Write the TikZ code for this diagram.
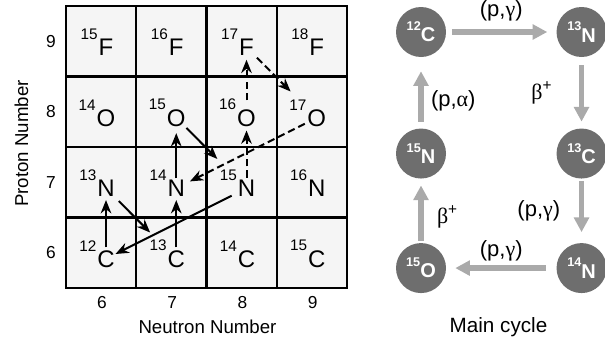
\documentclass[tikz,border=0pt]{standalone}
\usepackage{fontspec}
\setmainfont{Liberation Sans}
\newfontfamily\symfont{Liberation Serif}
\usetikzlibrary{arrows.meta,positioning}
\definecolor{cellfill}{RGB}{245,245,245}
\definecolor{nucfill}{RGB}{110,110,110}
\definecolor{cycgray}{RGB}{170,170,170}
\newcommand{\gr}[1]{{\symfont #1}}
\newcommand{\cnuc}[2]{{\fontsize{9.5}{10}\selectfont\raisebox{8.5pt}{#1}}#2}

\begin{document}
\begin{tikzpicture}[
    x=0.75pt,y=-0.75pt,
    cell/.style={draw,line width=1.8pt,fill=cellfill},
    elem/.style={inner sep=0pt,font=\fontsize{18}{20}\selectfont},
    mass/.style={inner sep=0pt,anchor=south east,xshift=-0.3pt,yshift=-1pt,font=\fontsize{11.5}{13}\selectfont},
    tick/.style={font=\fontsize{13}{15}\selectfont},
    axis/.style={anchor=base,font=\fontsize{14}{16}\selectfont},
    arrow/.style={line width=1.5pt,-{Stealth[length=10pt,width=8pt]}},
    darrow/.style={arrow,dash pattern=on 5.5pt off 3pt},
    nuc/.style={circle,fill=nucfill,minimum size=37.5pt,inner sep=0pt,text=white,font=\fontsize{15}{17}\selectfont\bfseries},
    cyc/.style={draw=cycgray,line width=4pt,-{Triangle[length=11pt,width=11pt]}},
    rlbl/.style={inner sep=0pt,font=\fontsize{16.5}{18}\selectfont}
]
    \useasboundingbox (0,0) rectangle (605,339);

    \foreach \i in {0,...,3}
        \foreach \j in {0,...,3}
            \draw[cell] ({66+\i*70.25},{6+\j*70.5}) rectangle ++(70.25,70.5);

    \foreach \z/\el in {6/C,7/N,8/O,9/F}
        \foreach \n in {6,...,9}{
            \pgfmathtruncatemacro\m{\n+\z}
            \node[elem,label={[mass]north west:\m}] (\el\m) at ({106+(\n-6)*70.25},{47.25+(9-\z)*70.5}) {\el};
        }

    \foreach \k in {6,...,9}{
        \node[tick] (nt\k) at ({102+(\k-6)*70.25},302.5) {\k};
        \node[tick] (pt\k) at (51,{41.25+(9-\k)*70.5}) {\k};
    }
    \node[axis] (nlabel) at (207.5,333) {Neutron Number};
    \node[axis,rotate=90] (plabel) at (28,143.5) {Proton Number};

    \draw[arrow,shorten <=2pt,shorten >=2.5pt] (C12) -- (N13);
    \draw[arrow,shorten <=4.5pt,shorten >=18.5pt] (N13) -- (C13);
    \draw[arrow,shorten <=2pt,shorten >=2.5pt] (C13) -- (N14);
    \draw[arrow,shorten <=1pt,shorten >=5pt] (N14) -- (O15);
    \draw[arrow,shorten <=1.5pt,shorten >=22pt] (O15) -- (N15);
    \draw[arrow,shorten <=5pt,shorten >=0.5pt] (N15) -- (C12);
    \draw[darrow,shorten <=1.5pt,shorten >=3pt] (N15) -- (O16);
    \draw[darrow,shorten <=6.5pt,shorten >=3pt] (O16) -- (F17);
    \draw[darrow,shorten <=3pt,shorten >=18.5pt] (F17) -- (O17);
    \draw[darrow,shorten <=2pt,shorten >=4pt] (O17) -- (N14);

    \node[nuc] (c12) at (421,32) {\cnuc{12}{C}};
    \node[nuc,right=82.5pt of c12] (n13) {\cnuc{13}{N}};
    \node[nuc,below=53.25pt of n13] (c13) {\cnuc{13}{C}};
    \node[nuc,below=48pt of c13] (n14) {\cnuc{14}{N}};
    \node[nuc,left=82.5pt of n14] (o15) {\cnuc{15}{O}};
    \node[nuc,above=48pt of o15] (n15) {\cnuc{15}{N}};
    \node[axis,font=\fontsize{15.5}{17}\selectfont] (cyclabel) at (498.5,332) {Main cycle};

    \draw[cyc,shorten <=4.5pt,shorten >=6.75pt] (c12) -- node[rlbl,above=6pt]{(p,\gr{γ})} (n13);
    \draw[cyc,shorten <=6pt,shorten >=5pt] (n13) -- node[rlbl,left=20pt]{\gr{β}\textsuperscript{+}} (c13);
    \draw[cyc,shorten <=1.5pt,shorten >=8pt] (c13) -- node[rlbl,left=14pt]{(p,\gr{γ})} (n14);
    \draw[cyc,shorten <=8pt,shorten >=6.75pt] (n14) -- node[rlbl,above=3.5pt]{(p,\gr{γ})} (o15);
    \draw[cyc,shorten <=1.5pt,shorten >=5pt] (o15) -- node[rlbl,right=10pt,yshift=-4.5pt]{\gr{β}\textsuperscript{+}} (n15);
    \draw[cyc,shorten <=5pt,shorten >=10.5pt] (n15) -- node[rlbl,right=5.5pt,yshift=-6pt]{(p,\gr{α})} (c12);
\end{tikzpicture}
\end{document}
